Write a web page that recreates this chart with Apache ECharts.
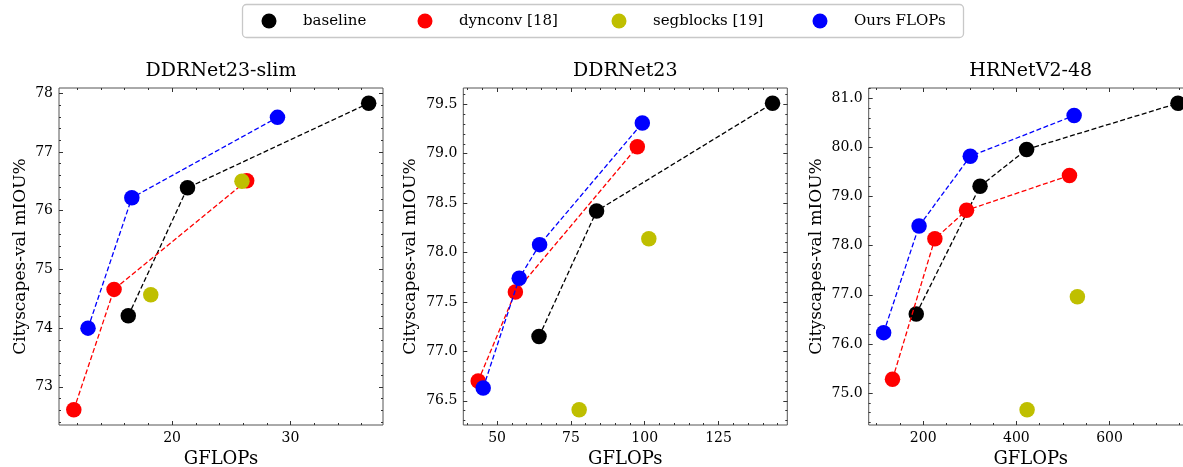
<!DOCTYPE html>
<html>
<head>
<meta charset="utf-8">
<script src="https://cdn.jsdelivr.net/npm/echarts@6/dist/echarts.min.js"></script>
<style>
  html, body { margin: 0; padding: 0; background: #fff; }
  #chart { width: 1183px; height: 467px; }
</style>
</head>
<body>
<div id="chart"></div>
<script>
// DDRNet23-slim  [GFLOPs, mIoU]
const slimBaseline  = [[16.3, 74.21], [21.3, 76.39], [36.6, 77.83]];
const slimDynconv   = [[11.7, 72.61], [15.1, 74.66], [26.3, 76.51]];
const slimSegblocks = [[18.2, 74.57], [25.9, 76.50]];
const slimOurs      = [[12.9, 74.00], [16.6, 76.22], [28.9, 77.59]];

// DDRNet23
const ddrBaseline  = [[64.2, 77.15], [83.7, 78.42], [143.3, 79.51]];
const ddrDynconv   = [[43.6, 76.70], [56.2, 77.60], [97.5, 79.07]];
const ddrSegblocks = [[77.8, 76.41], [101.4, 78.14]];
const ddrOurs      = [[45.3, 76.63], [57.5, 77.74], [64.4, 78.08], [99.2, 79.31]];

// HRNetV2-48
const hrBaseline  = [[185, 76.61], [322, 79.21], [422, 79.96], [747, 80.90]];
const hrDynconv   = [[134, 75.28], [225, 78.14], [293, 78.72], [514, 79.43]];
const hrSegblocks = [[423, 74.66], [531, 76.96]];
const hrOurs      = [[115, 76.23], [191, 78.40], [301, 79.82], [524, 80.65]];

const methodNames  = ['baseline', 'dynconv [18]', 'segblocks [19]', 'Ours FLOPs'];
const methodColors = ['#000000', '#ff0000', '#bfbf00', '#0000ff'];
const panelTitles  = ['DDRNet23-slim', 'DDRNet23', 'HRNetV2-48'];

const slimXTicks = [20, 30];
const slimYTicks = [73, 74, 75, 76, 77, 78];
const ddrXTicks  = [50, 75, 100, 125];
const ddrYTicks  = [76.5, 77.0, 77.5, 78.0, 78.5, 79.0, 79.5];
const hrXTicks   = [200, 400, 600];
const hrYTicks   = [75, 76, 77, 78, 79, 80, 81];

const FONT = "'DejaVu Serif', serif";

// the third panel runs past the right edge of the figure, like the original
const panels = [
  { left: 59,    width: 324, xRange: [10.45, 37.81], yRange: [72.35, 78.09], xTicks: slimXTicks, xStep: 2,
    yTicks: slimYTicks, yStep: 0.2, yDigits: 0, yGap: 30, data: [slimBaseline, slimDynconv, slimSegblocks, slimOurs] },
  { left: 463.3, width: 324, xRange: [38.56, 148.3], yRange: [76.255, 79.665], xTicks: ddrXTicks, xStep: 5,
    yTicks: ddrYTicks, yStep: 0.1, yDigits: 1, yGap: 44, data: [ddrBaseline, ddrDynconv, ddrSegblocks, ddrOurs] },
  { left: 868.7, width: 324, xRange: [82.9, 778.6], yRange: [74.35, 81.21], xTicks: hrXTicks, xStep: 50,
    yTicks: hrYTicks, yStep: 0.2, yDigits: 1, yGap: 44, data: [hrBaseline, hrDynconv, hrSegblocks, hrOurs] }
];

// minor tick positions inside an axis range
const minorValues = (range, step) => {
  const out = [];
  for (let k = Math.ceil(range[0] / step - 1e-9); k * step <= range[1] + 1e-9; k++) {
    out.push(+(k * step).toFixed(4));
  }
  return out;
};

const tickAxis = (gi, pos, range, values, len) => {
  return {
    type: 'value', gridIndex: gi, position: pos, min: range[0], max: range[1],
    axisLine: { show: false }, splitLine: { show: false },
    axisLabel: { show: false, customValues: values },
    axisTick: { show: true, inside: true, length: len, customValues: values,
      lineStyle: { color: '#333', width: 1 } }
  };
};

let grids = [], xAxes = [], yAxes = [], titles = [], series = [];

panels.forEach((p, gi) => {
  grids.push({ left: p.left, width: p.width, top: 88, height: 337, show: true,
    outerBoundsMode: 'none', containLabel: false,
    borderColor: '#555', borderWidth: 1, backgroundColor: 'transparent' });

  titles.push({ text: panelTitles[gi], left: p.left + 162, top: 62, textAlign: 'center', padding: 0,
    textStyle: { fontFamily: FONT, fontSize: 19, fontWeight: 'normal', color: '#000' } });

  let xMain = tickAxis(gi, 'bottom', p.xRange, p.xTicks, 4);
  xMain.axisLabel = { show: true, customValues: p.xTicks, margin: 6, color: '#000',
    fontFamily: FONT, fontSize: 14, formatter: v => String(v) };
  xMain.name = 'GFLOPs';
  xMain.nameLocation = 'middle';
  xMain.nameGap = 24;
  xMain.nameTextStyle = { fontFamily: FONT, fontSize: 18, color: '#000' };
  xAxes.push(xMain,
    tickAxis(gi, 'bottom', p.xRange, minorValues(p.xRange, p.xStep), 2),
    tickAxis(gi, 'top', p.xRange, p.xTicks, 4),
    tickAxis(gi, 'top', p.xRange, minorValues(p.xRange, p.xStep), 2));

  let yMain = tickAxis(gi, 'left', p.yRange, p.yTicks, 4);
  yMain.axisLabel = { show: true, customValues: p.yTicks, margin: 6, color: '#000',
    fontFamily: FONT, fontSize: 14, formatter: v => v.toFixed(p.yDigits) };
  yMain.name = 'Cityscapes-val mIOU%';
  yMain.nameLocation = 'middle';
  yMain.nameGap = p.yGap;
  yMain.nameTextStyle = { fontFamily: FONT, fontSize: 17, color: '#000' };
  yAxes.push(yMain,
    tickAxis(gi, 'left', p.yRange, minorValues(p.yRange, p.yStep), 2),
    tickAxis(gi, 'right', p.yRange, p.yTicks, 4),
    tickAxis(gi, 'right', p.yRange, minorValues(p.yRange, p.yStep), 2));

  p.data.forEach((d, mi) => {
    series.push({
      name: methodNames[mi],
      type: mi === 2 ? 'scatter' : 'line',
      xAxisIndex: gi * 4, yAxisIndex: gi * 4,
      data: d,
      z: 2 + mi,
      symbol: 'circle', symbolSize: 15.5, showSymbol: true,
      itemStyle: { color: methodColors[mi], opacity: 1 },
      lineStyle: { color: methodColors[mi], width: 1.3, type: [5, 2.5] },
      emphasis: { disabled: true },
      silent: true
    });
  });
});

const legendCenters = [269, 425, 619, 820];
const legends = methodNames.map((n, i) => ({
  data: [n], left: legendCenters[i] - 7.5, top: 13.5, padding: 0,
  icon: 'circle', itemWidth: 30, itemHeight: 15, selectedMode: false,
  textStyle: { fontFamily: FONT, fontSize: 15, color: '#000', padding: [0, 0, 0, 14] }
}));

const chart = echarts.init(document.getElementById('chart'), null, { renderer: 'canvas' });
chart.setOption({
  animation: false,
  backgroundColor: '#fff',
  title: titles,
  legend: legends,
  graphic: [{
    type: 'rect', z: 0,
    shape: { x: 242.5, y: 4.5, width: 721, height: 33, r: 4 },
    style: { fill: '#fff', stroke: '#c8c8c8', lineWidth: 1.3 }
  }],
  grid: grids,
  xAxis: xAxes,
  yAxis: yAxes,
  series: series
});
</script>
</body>
</html>
